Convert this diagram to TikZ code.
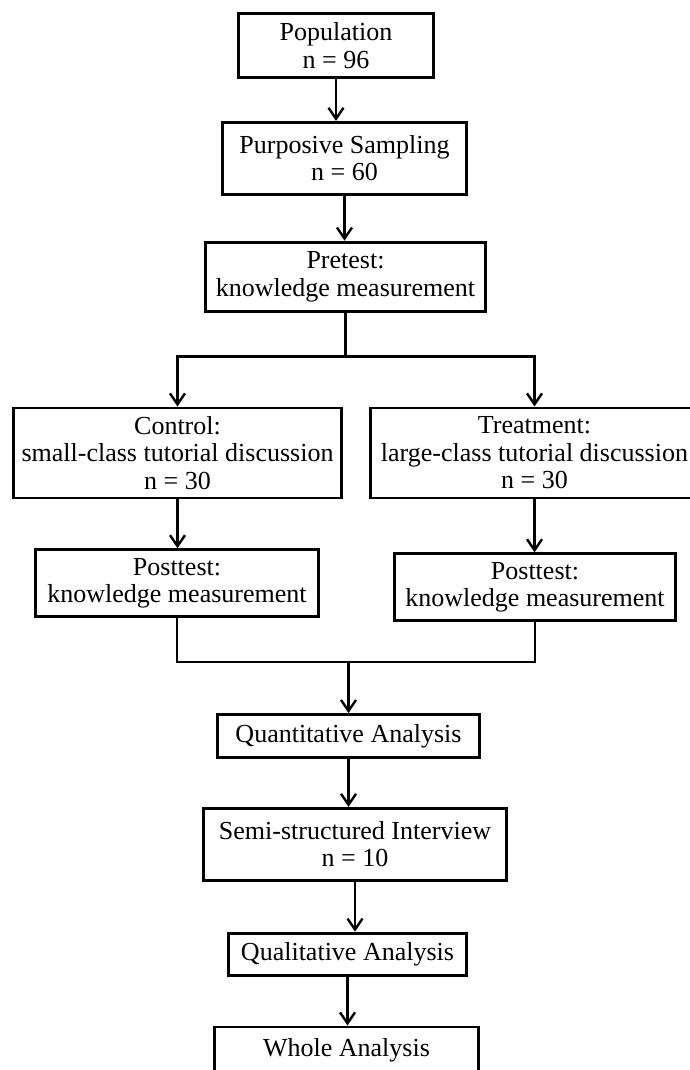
\documentclass[tikz,border=0pt]{standalone}
\usepackage{fontspec}
\setmainfont{Liberation Serif}
\usetikzlibrary{positioning,arrows.meta,calc}

\begin{document}
\begin{tikzpicture}[font=\fontsize{26}{27.5}\selectfont,
    box/.style={draw, line width=2.8pt, align=center, inner sep=0pt},
    arrow/.style={line width=2.4pt, -{Straight Barb[length=11pt,width=15pt]}},
    link/.style={line width=2.4pt}]
    \useasboundingbox (0,0) rectangle (690pt,-1070pt);
    % Add the boxes
    \node[box,
          minimum width=195pt,
          minimum height=64pt] (pop) at (336pt,-45.5pt) {Population\\n = 96};
    \node[box,
          below=42pt of pop, xshift=8.5pt,
          minimum width=244pt,
          minimum height=72pt] (purp) {Purposive Sampling\\n = 60};
    \node[box,
          below=45pt of purp, xshift=1pt,
          minimum width=280pt,
          minimum height=69pt] (pret) {Pretest:\\knowledge measurement};
    \node[box,
          below=94pt of pret, xshift=-168pt,
          minimum width=328pt,
          minimum height=90pt] (ctrl) {Control:\\small-class tutorial discussion\\n = 30};
    \node[box,
          below=94pt of pret, xshift=189pt,
          minimum width=328pt,
          minimum height=90pt] (treat) {Treatment:\\large-class tutorial discussion\\n = 30};
    \node[box,
          below=49pt of ctrl, xshift=-0.5pt,
          minimum width=283pt,
          minimum height=67pt] (postL) {Posttest:\\knowledge measurement};
    \node[box,
          below=53pt of treat, xshift=0.5pt,
          minimum width=281pt,
          minimum height=67pt] (postR) {Posttest:\\knowledge measurement};
    \node[box,
          below=95pt of postL, xshift=171.5pt,
          minimum width=262pt,
          minimum height=43pt] (quant) {Quantitative Analysis};
    \node[box,
          below=48pt of quant, xshift=6.5pt,
          minimum width=303pt,
          minimum height=72pt] (semi) {Semi-structured Interview\\n = 10};
    \node[box,
          below=50pt of semi, xshift=-7.5pt,
          minimum width=238pt,
          minimum height=42pt] (qual) {Qualitative Analysis};
    \node[box,
          below=49pt of qual, xshift=-1pt,
          minimum width=264pt,
          minimum height=46pt] (whole) {Whole Analysis};
    % Connect the boxes
    \coordinate (split) at ($(pret.south)+(0,-44pt)$);
    \coordinate (join) at ($(postL.south -| quant.north)+(0,-44pt)$);
    \draw[arrow] (pop.south) -- (pop.south |- purp.north);
    \draw[arrow] (purp.south) -- (purp.south |- pret.north);
    \draw[link] (pret.south) -- (split);
    \draw[arrow] (split) -| (ctrl.north);
    \draw[arrow] (split) -| (treat.north);
    \draw[arrow] (ctrl.south) -- (ctrl.south |- postL.north);
    \draw[arrow] (treat.south) -- (treat.south |- postR.north);
    \draw[link] (postL.south) |- (join) -| (postR.south);
    \draw[arrow] (join) -- (quant.north);
    \draw[arrow] (quant.south) -- (quant.south |- semi.north);
    \draw[arrow] (semi.south) -- (semi.south |- qual.north);
    \draw[arrow] (qual.south) -- (qual.south |- whole.north);
\end{tikzpicture}
\end{document}
